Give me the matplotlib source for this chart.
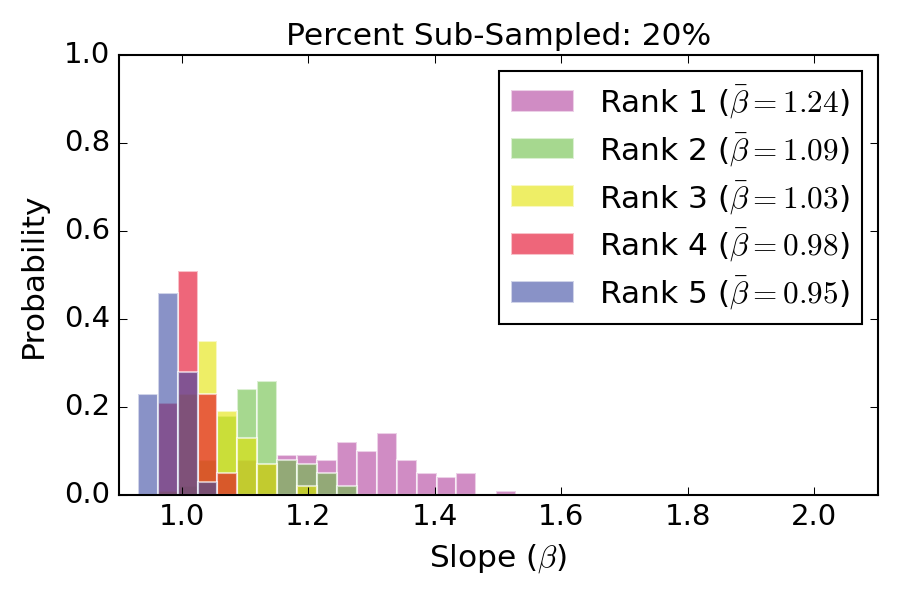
import numpy as np
import matplotlib
matplotlib.use("Agg")
import matplotlib.pyplot as plt

plt.style.use("classic")
plt.rcParams["font.family"] = ["DejaVu Sans"]
plt.rcParams["font.size"] = 14
plt.rcParams["mathtext.fontset"] = "cm"

# Histogramas (probabilidade por bin) para cada rank
bin_start = 0.930
bin_width = 0.0315

rank1 = [0, 0, 0, 0, 0, 0.08, 0.07, 0.09, 0.09, 0.08, 0.12, 0.10, 0.14, 0.08, 0.05, 0.04, 0.05, 0, 0.01]
rank2 = [0, 0, 0.02, 0.08, 0.18, 0.24, 0.26, 0.08, 0.07, 0.05, 0.02, 0, 0, 0, 0, 0, 0, 0, 0]
rank3 = [0, 0.01, 0.23, 0.35, 0.19, 0.13, 0.07, 0, 0.02, 0, 0, 0, 0, 0, 0, 0, 0, 0, 0]
rank4 = [0, 0.21, 0.51, 0.23, 0.05, 0, 0, 0, 0, 0, 0, 0, 0, 0, 0, 0, 0, 0, 0]
rank5 = [0.23, 0.46, 0.28, 0.03, 0, 0, 0, 0, 0, 0, 0, 0, 0, 0, 0, 0, 0, 0, 0]

means = ["1.24", "1.09", "1.03", "0.98", "0.95"]
cores = ["#b13f9d", "#6bbe44", "#e3e300", "#e30021", "#3a49a3"]

fig = plt.figure(figsize=(6, 4), dpi=150, facecolor="white")
ax = fig.add_subplot(111)
fig.subplots_adjust(left=0.132, right=0.975, bottom=0.175, top=0.908)

ranks = [rank1, rank2, rank3, rank4, rank5]
for i, probs in enumerate(ranks):
    probs = np.array(probs)
    edges = bin_start + bin_width * np.arange(len(probs))
    ax.bar(edges, probs, width=bin_width, align="edge", color=cores[i], alpha=0.6,
           edgecolor="white", linewidth=1.0,
           label=r"Rank %d ($\bar{\beta}=%s$)" % (i + 1, means[i]))

ax.set_xlim(0.9, 2.1)
ax.set_ylim(0.0, 1.0)
ax.set_xticks([1.0, 1.2, 1.4, 1.6, 1.8, 2.0])
ax.set_yticks([0.0, 0.2, 0.4, 0.6, 0.8, 1.0])
ax.set_xlabel(r"Slope ($\beta$)", fontsize=15)
ax.set_ylabel("Probability", fontsize=15, labelpad=8)
ax.set_title("Percent Sub-Sampled: 20%", fontsize=15)
ax.legend(loc="upper right", fontsize=15, labelspacing=0.35)

fig.savefig("out.png", dpi=150, facecolor="white")
